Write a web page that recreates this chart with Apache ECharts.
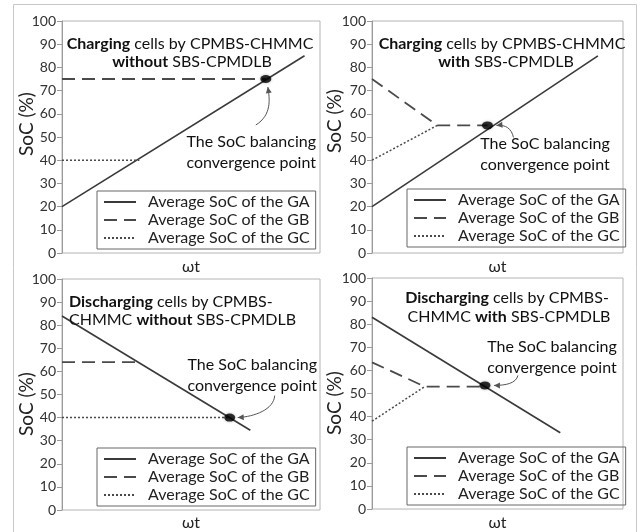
<!DOCTYPE html>
<html>
<head>
<meta charset="utf-8">
<script src="https://cdn.jsdelivr.net/npm/echarts@6/dist/echarts.min.js"></script>
<style>
  html, body { margin: 0; padding: 0; background: #fff; }
  #chart { width: 644px; height: 532px; }
</style>
</head>
<body>
<div id="chart"></div>
<script>
// ---- data (x: normalised ωt, 0..100; y: SoC %) ----
// Charging, without SBS-CPMDLB
const chgOffGA = [[0, 20], [94, 85]];
const chgOffGB = [[0, 75], [79, 75]];
const chgOffGC = [[0, 40], [30, 40]];
const chgOffMeet = [[79, 75]];
// Charging, with SBS-CPMDLB
const chgOnGA = [[0, 20], [90, 85]];
const chgOnGB = [[0, 75], [26, 55], [46, 55]];
const chgOnGC = [[0, 40], [26, 55]];
const chgOnMeet = [[46, 55]];
// Discharging, without SBS-CPMDLB
const disOffGA = [[0, 84], [73, 34.5]];
const disOffGB = [[0, 64], [29, 64]];
const disOffGC = [[0, 40], [65, 40]];
const disOffMeet = [[65, 40]];
// Discharging, with SBS-CPMDLB
const disOnGA = [[0, 83], [75, 33]];
const disOnGB = [[0, 63.5], [21, 53], [45, 53]];
const disOnGC = [[0, 38], [21, 53]];
const disOnMeet = [[45, 53.5]];

const seriesNames = ['Average SoC of the GA', 'Average SoC of the GB', 'Average SoC of the GC'];
const yMin = 0, yMax = 100, yStep = 10;
const xLabel = 'ωt';
const yLabel = 'SoC (%)';
const noteLines = ['The SoC balancing', 'convergence point'];

const panels = [
  { ga: chgOffGA, gb: chgOffGB, gc: chgOffGC, meet: chgOffMeet,
    title: ['{b|Charging} cells by CPMBS-CHMMC', '{b|without} SBS-CPMDLB'] },
  { ga: chgOnGA, gb: chgOnGB, gc: chgOnGC, meet: chgOnMeet,
    title: ['{b|Charging} cells by CPMBS-CHMMC', '{b|with} SBS-CPMDLB'] },
  { ga: disOffGA, gb: disOffGB, gc: disOffGC, meet: disOffMeet,
    title: ['{b|Discharging} cells by CPMBS-', 'CHMMC {b|without} SBS-CPMDLB'] },
  { ga: disOnGA, gb: disOnGB, gc: disOnGC, meet: disOnMeet,
    title: ['{b|Discharging} cells by CPMBS-', 'CHMMC {b|with} SBS-CPMDLB'] }
];

// ---- layout ----
const FONT = 'Lato, "Open Sans", sans-serif';
const INK = '#3a3a3a';
const grids = [
  { left: 62, top: 21, width: 258, height: 232 },
  { left: 372, top: 21, width: 251, height: 232 },
  { left: 62, top: 279, width: 258, height: 233 },
  { left: 372, top: 278, width: 251, height: 232 }
];
const xNameGap = [6, 6, 5, 6];
// rotated y-axis title centres
const yNamePos = [[27, 124], [335, 121], [27, 404], [335, 403]];
// title lines: [x, y, align] per line
const titlePos = [
  [[190, 44, 'center'], [192, 62, 'center']],
  [[502, 44, 'center'], [506, 62, 'center']],
  [[69, 302, 'left'], [69, 320, 'left']],
  [[507, 298, 'center'], [509, 317, 'center']]
];
// annotation text: [x, y of first line, align]
const notePos = [[316, 142, 'right'], [545, 144, 'center'], [317, 365, 'right'], [552, 347, 'center']];
// arrow, relative to the convergence point: start, ctrl1, ctrl2, end
const arrowRel = [
  [[-10, 46], [6, 36], [4, 20], [2, 8]],
  [[26, 12], [24, 3], [18, -1], [9, 0]],
  [[45, -22], [44, -8], [25, -1], [8, 0]],
  [[33, -10], [31, -2], [21, 0], [9, 0]]
];
const legendPos = [[97, 191], [407, 189], [97, 448], [407, 447]];

const chart = echarts.init(document.getElementById('chart'), null, { renderer: 'canvas' });

const option = {
  animation: false,
  backgroundColor: '#fff',
  textStyle: { fontFamily: FONT },
  grid: grids.map(g => Object.assign({ show: true, borderColor: '#b4b4b4', borderWidth: 1, containLabel: false }, g)),
  xAxis: grids.map((g, i) => ({
    type: 'value', gridIndex: i, min: 0, max: 100,
    axisLine: { show: false }, axisTick: { show: false }, axisLabel: { show: false },
    splitLine: { show: false },
    name: xLabel, nameLocation: 'middle', nameGap: xNameGap[i],
    nameTextStyle: { fontSize: 16, color: '#222', fontFamily: FONT }
  })),
  yAxis: grids.map((g, i) => ({
    type: 'value', gridIndex: i, min: yMin, max: yMax, interval: yStep,
    axisLine: { show: true, lineStyle: { color: '#9a9a9a', width: 1 } },
    axisTick: { show: true, inside: false, length: 5, lineStyle: { color: '#9a9a9a' } },
    axisLabel: { fontSize: 14, color: '#333', margin: 6, fontFamily: FONT },
    splitLine: { show: false }
  })),
  legend: legendPos.map(p => ({
    data: seriesNames,
    orient: 'vertical', left: p[0], top: p[1],
    borderColor: '#666', borderWidth: 1, padding: [3, 6, 3, 6],
    itemGap: 2, itemWidth: 32, itemHeight: 14,
    selectedMode: false,
    itemStyle: { opacity: 0 },
    textStyle: { fontSize: 16, color: '#222', fontFamily: FONT, padding: [0, 0, 0, 7] }
  })),
  series: []
};

panels.forEach((p, i) => {
  const common = { type: 'line', xAxisIndex: i, yAxisIndex: i, symbol: 'none', silent: true };
  option.series.push(Object.assign({}, common, {
    name: seriesNames[0], data: p.ga,
    lineStyle: { color: INK, width: 1.6, type: 'solid' }, itemStyle: { color: INK }
  }));
  option.series.push(Object.assign({}, common, {
    name: seriesNames[1], data: p.gb,
    lineStyle: { color: '#4a4a4a', width: 1.8, type: [13, 7] }, itemStyle: { color: '#4a4a4a' }
  }));
  option.series.push(Object.assign({}, common, {
    name: seriesNames[2], data: p.gc,
    lineStyle: { color: '#4a4a4a', width: 1.5, type: [2, 2] }, itemStyle: { color: '#4a4a4a' }
  }));
  option.series.push({
    type: 'scatter', name: 'meet', xAxisIndex: i, yAxisIndex: i, data: p.meet,
    symbol: 'circle', symbolSize: [11, 8], silent: true, z: 5,
    itemStyle: { color: '#000', shadowBlur: 3, shadowColor: 'rgba(0,0,0,0.35)' }
  });
});

chart.setOption(option);

// ---- titles, axis names, notes, arrows and frame ----
const gfx = [];
gfx.push({
  type: 'rect', shape: { x: 13.5, y: 4.5, width: 623, height: 545 },
  style: { fill: 'none', stroke: '#c8c8c8', lineWidth: 1 }, silent: true, z: -1
});

panels.forEach((p, i) => {
  gfx.push({
    type: 'text', x: yNamePos[i][0], y: yNamePos[i][1], rotation: Math.PI / 2, silent: true, z: 10,
    style: { text: yLabel, fill: '#222', font: '19px ' + FONT, align: 'center', verticalAlign: 'middle' }
  });
  p.title.forEach((line, k) => {
    const [x, y, align] = titlePos[i][k];
    gfx.push({
      type: 'text', x: x, y: y, silent: true, z: 10,
      style: {
        text: line, fill: '#111', font: '16px ' + FONT, align: align, verticalAlign: 'middle',
        rich: { b: { fontWeight: 'bold', fontSize: 16, fontFamily: FONT, fill: '#111' } }
      }
    });
  });
  const [nx, ny, na] = notePos[i];
  noteLines.forEach((t, k) => {
    gfx.push({
      type: 'text', x: nx, y: ny + k * 21, silent: true, z: 10,
      style: { text: t, fill: '#111', font: '16px ' + FONT, align: na, verticalAlign: 'middle' }
    });
  });

  const c = chart.convertToPixel({ gridIndex: i }, p.meet[0]);
  const r = arrowRel[i].map(d => [c[0] + d[0], c[1] + d[1]]);
  gfx.push({
    type: 'bezierCurve', silent: true, z: 9,
    shape: { x1: r[0][0], y1: r[0][1], cpx1: r[1][0], cpy1: r[1][1], cpx2: r[2][0], cpy2: r[2][1], x2: r[3][0], y2: r[3][1] },
    style: { stroke: '#555', lineWidth: 1, fill: 'none' }
  });
  // arrow head along the last tangent
  const dx = r[3][0] - r[2][0], dy = r[3][1] - r[2][1];
  const len = Math.hypot(dx, dy) || 1;
  const ux = dx / len, uy = dy / len;
  const hl = 6, hw = 3;
  const tip = r[3];
  const bx = tip[0] - ux * hl, by = tip[1] - uy * hl;
  gfx.push({
    type: 'polygon', silent: true, z: 9,
    shape: { points: [tip, [bx - uy * hw, by + ux * hw], [bx + uy * hw, by - ux * hw]] },
    style: { fill: '#555' }
  });
});

chart.setOption({ graphic: gfx });
</script>
</body>
</html>
